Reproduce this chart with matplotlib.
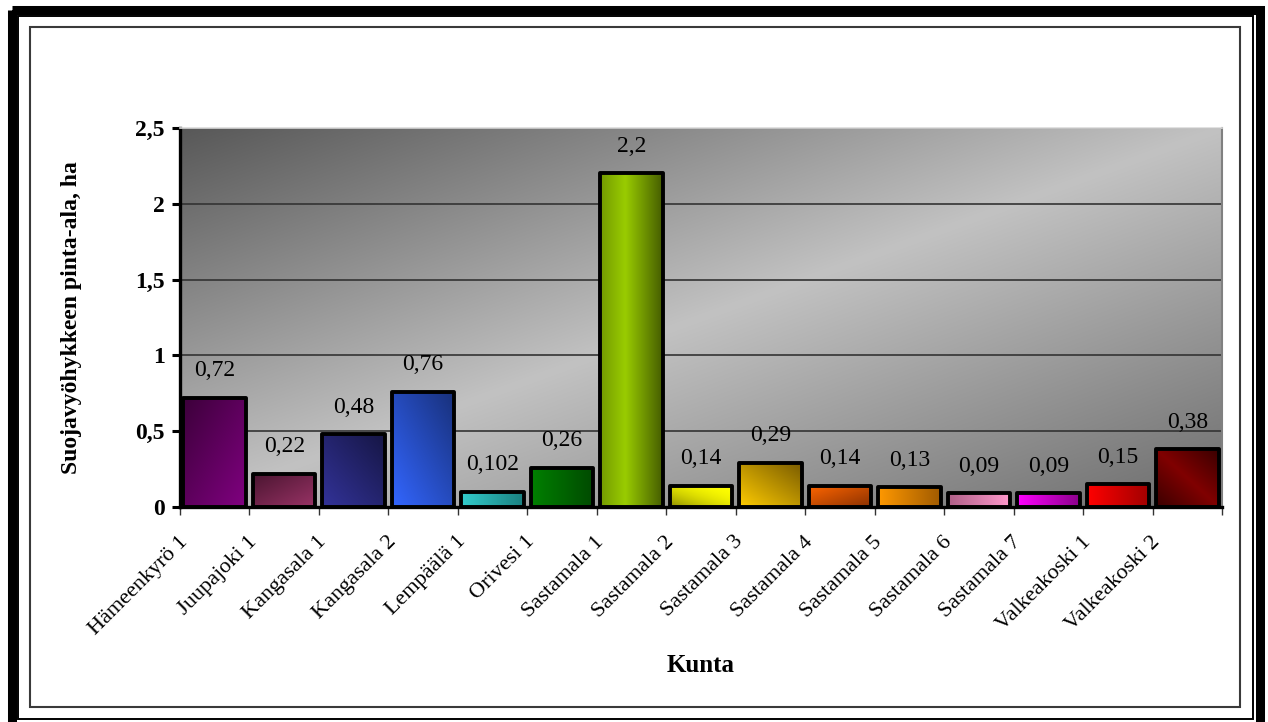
import numpy as np
import matplotlib.pyplot as plt
from matplotlib.patches import Rectangle
from matplotlib.ticker import FuncFormatter
import matplotlib.transforms as mtrans

plt.rcParams['font.family'] = ['Liberation Serif', 'DejaVu Serif']

kunnat = ["Hämeenkyrö 1", "Juupajoki 1", "Kangasala 1", "Kangasala 2", "Lempäälä 1",
          "Orivesi 1", "Sastamala 1", "Sastamala 2", "Sastamala 3", "Sastamala 4",
          "Sastamala 5", "Sastamala 6", "Sastamala 7", "Valkeakoski 1", "Valkeakoski 2"]
pinta_ala = [0.72, 0.22, 0.48, 0.76, 0.102, 0.26, 2.2, 0.14, 0.29, 0.14, 0.13, 0.09, 0.09, 0.15, 0.38]

# bar fill: base colour, dark colour, gradient direction
base = ['#800080', '#993366', '#333399', '#3366ff', '#33cccc', '#008000', '#99cc00', '#ffff00',
        '#ffcc00', '#ff6600', '#ff9900', '#ff99cc', '#ff00ff', '#ff0000', '#800000']
dark = ['#3c003a', '#4a1530', '#161645', '#18307a', '#1a8080', '#004a00', '#465e00', '#8a8a00',
        '#7a5c00', '#8a3000', '#a05a00', '#b06088', '#8a008a', '#a00000', '#3a0000']
suunta = ['tl', 'tl', 'tr', 'tr', 'r', 'r', 'lr', 'bl', 'tr', 'br', 'r', 'l', 'r', 'r', 'ends']

W, H = 1268, 722
fig = plt.figure(figsize=(W / 100, H / 100), dpi=100)

# frame around the whole chart (pixel coords)
bg = fig.add_axes([0, 0, 1, 1], zorder=-5)
bg.set_xlim(0, W)
bg.set_ylim(H, 0)
bg.axis('off')
bg.add_patch(Rectangle((11.5, 9.5), 1260 - 11.5, 726 - 9.5, fill=False, lw=6.5, ec='black'))
bg.add_patch(Rectangle((18.3, 16), 1253 - 18.3, 719 - 16, fill=False, lw=1.4, ec='black'))
bg.add_patch(Rectangle((30, 27), 1239.5 - 30, 707 - 27, fill=False, lw=1.5, ec='#3a3a3a'))

ax = fig.add_axes([180 / W, 1 - 507 / H, (1222 - 180) / W, (507 - 128) / H])
ax.set_facecolor('none')

# plot area gradient: dark top-left, light middle, darker bottom-right
n = 300
X, Y = np.meshgrid(np.linspace(0, 1, n), np.linspace(0, 1, n))
u = (X + (1 - Y)) / 2
g = np.interp(u, [0, 0.5, 1], [88, 194, 108]) / 255
ax.imshow(np.dstack([g, g, g]), extent=[0, 1, 0, 1], transform=ax.transAxes,
          origin='lower', aspect='auto', zorder=0, interpolation='bilinear')


def hex2rgb(h):
    h = h.lstrip('#')
    return np.array([int(h[i:i + 2], 16) for i in (0, 2, 4)]) / 255


def weight(kind, X, Y):
    if kind == 'tl':
        return ((1 - X) + Y) / 2
    if kind == 'tr':
        return (X + Y) / 2
    if kind == 'bl':
        return (((1 - X) + (1 - Y)) / 2) ** 2
    if kind == 'br':
        return (X + (1 - Y)) / 2
    if kind == 'r':
        return X
    if kind == 'l':
        return 1 - X
    if kind == 'lr':
        return np.interp(X, [0, 0.4, 1], [0.45, 0, 1])
    return np.abs((X + Y) / 2 - 0.5) * 2


x = np.arange(len(kunnat))
bars = ax.bar(x, pinta_ala, width=0.9, facecolor='none', edgecolor='black',
              linewidth=2.8, joinstyle='round', zorder=3)

gx, gy = np.meshgrid(np.linspace(0, 1, 60), np.linspace(0, 1, 60))
for b, c0, c1, k in zip(bars, base, dark, suunta):
    w = weight(k, gx, gy)[..., None]
    img = hex2rgb(c0) * (1 - w) + hex2rgb(c1) * w
    x0 = b.get_x()
    im = ax.imshow(img, extent=[x0, x0 + b.get_width(), 0, b.get_height()],
                   origin='lower', aspect='auto', zorder=2, interpolation='bilinear')
    im.set_clip_path(b)

for xi, v in zip(x, pinta_ala):
    ax.annotate(str(v).replace('.', ','), (xi, v), xytext=(0, 19.5), textcoords='offset points',
                ha='center', va='center', fontsize=17, zorder=4)

ax.set_xlim(-0.5, len(kunnat) - 0.5)
ax.set_ylim(0, 2.5)
ax.set_yticks([0, 0.5, 1, 1.5, 2, 2.5])
ax.yaxis.set_major_formatter(FuncFormatter(lambda v, _: f"{v:g}".replace('.', ',')))
ax.yaxis.grid(True, color='#333333', lw=1.2, zorder=1)
ax.tick_params(axis='y', direction='out', length=6, width=2.2, color='black', pad=5,
               labelsize=17)
for t in ax.get_yticklabels():
    t.set_fontweight('bold')

ax.set_xticks(x)
ax.set_xticks(np.arange(len(kunnat) + 1) - 0.5, minor=True)
ax.tick_params(axis='x', which='major', length=0, pad=0)
ax.tick_params(axis='x', which='minor', direction='out', length=6, width=1, color='#333333')
ax.set_xticklabels(kunnat, rotation=45, ha='right', va='center', rotation_mode='anchor',
                   fontsize=16)
shift = mtrans.ScaledTranslation(-30 / 100, -32 / 100, fig.dpi_scale_trans)
for t in ax.get_xticklabels():
    t.set_transform(t.get_transform() + shift)

for s in ['left', 'bottom']:
    ax.spines[s].set_linewidth(2.4)
    ax.spines[s].set_color('black')
ax.spines['top'].set_color('#dcdcdc')
ax.spines['top'].set_linewidth(1.2)
ax.spines['right'].set_color('#808080')
ax.spines['right'].set_linewidth(1.5)

ax.set_ylabel('Suojavyöhykkeen pinta-ala, ha', fontsize=17, fontweight='bold')
ax.yaxis.set_label_coords(-0.094, 0.5)
ax.set_xlabel('Kunta', fontsize=18, fontweight='bold', va='top')
ax.xaxis.set_label_coords(0.5, -0.388)

fig.savefig('out.png', dpi=100)
